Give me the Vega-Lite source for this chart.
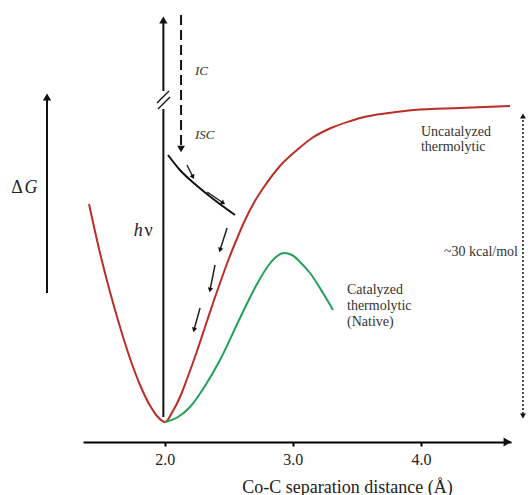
{
  "$schema": "https://vega.github.io/schema/vega-lite/v6.json",
  "width": 428,
  "height": 442,
  "padding": {"left": 83, "right": 17, "top": 0, "bottom": 53},
  "autosize": {"type": "none"},
  "background": "white",
  "config": {"view": {"stroke": null}, "font": "Times New Roman, Liberation Serif, serif"},
  "datasets": {
    "red": [
      {"x": 1.4097, "y": 21.8}, {"x": 1.4955, "y": 16.9}, {"x": 1.5735, "y": 13.0},
      {"x": 1.6516, "y": 9.5}, {"x": 1.7530, "y": 5.5}, {"x": 1.8076, "y": 3.7},
      {"x": 1.8856, "y": 1.65}, {"x": 1.9403, "y": 0.6}, {"x": 2.0027, "y": 0.0},
      {"x": 2.06, "y": 1.0}, {"x": 2.12, "y": 2.5}, {"x": 2.174, "y": 4.3},
      {"x": 2.25, "y": 7.0}, {"x": 2.315, "y": 9.5}, {"x": 2.38, "y": 12.0},
      {"x": 2.432, "y": 13.9}, {"x": 2.5, "y": 16.3}, {"x": 2.56, "y": 18.2},
      {"x": 2.62, "y": 20.0}, {"x": 2.7, "y": 22.0}, {"x": 2.775, "y": 23.5},
      {"x": 2.9, "y": 25.6}, {"x": 3.033, "y": 27.2}, {"x": 3.15, "y": 28.4},
      {"x": 3.298, "y": 29.4}, {"x": 3.45, "y": 30.1}, {"x": 3.556, "y": 30.5},
      {"x": 3.75, "y": 30.9}, {"x": 3.946, "y": 31.2}, {"x": 4.3, "y": 31.4},
      {"x": 4.695, "y": 31.6}
    ],
    "green": [
      {"x": 2.0027, "y": 0.0}, {"x": 2.1042, "y": 0.5}, {"x": 2.1978, "y": 1.5},
      {"x": 2.3149, "y": 3.6}, {"x": 2.4319, "y": 6.2}, {"x": 2.588, "y": 10.4},
      {"x": 2.7206, "y": 13.8}, {"x": 2.8065, "y": 15.6}, {"x": 2.8689, "y": 16.5},
      {"x": 2.9313, "y": 16.9}, {"x": 2.9938, "y": 16.7}, {"x": 3.0562, "y": 16.0},
      {"x": 3.1342, "y": 14.9}, {"x": 3.2357, "y": 12.9}, {"x": 3.3137, "y": 11.2}
    ],
    "isc": [
      {"x": 2.026, "y": 26.7}, {"x": 2.119, "y": 25.2}, {"x": 2.236, "y": 23.8},
      {"x": 2.369, "y": 22.4}, {"x": 2.549, "y": 20.7}
    ],
    "solidSegs": [
      {"x": 1.082, "y": 12.9, "x2": 1.082, "y2": 32.3},
      {"x": 1.99, "y": 0.5, "x2": 1.99, "y2": 40.0}
    ],
    "dashSeg": [
      {"x": 2.128, "y": 40.7, "x2": 2.128, "y2": 27.6}
    ],
    "dotSeg": [
      {"x": 4.796, "y": 0.8, "x2": 4.796, "y2": 30.4}
    ],
    "breakWhite": [
      {"x": 1.99, "y": 31.3, "x2": 1.99, "y2": 33.1}
    ],
    "breakMarks": [
      {"x": 1.940, "y": 31.9, "x2": 2.034, "y2": 33.1},
      {"x": 1.948, "y": 31.3, "x2": 2.042, "y2": 32.5}
    ],
    "thinArrows": [
      {"x": 2.174, "y": 25.7, "x2": 2.221, "y2": 24.5},
      {"x": 2.332, "y": 23.0, "x2": 2.457, "y2": 21.9},
      {"x": 2.487, "y": 19.4, "x2": 2.432, "y2": 17.2},
      {"x": 2.393, "y": 15.7, "x2": 2.354, "y2": 13.2},
      {"x": 2.276, "y": 11.4, "x2": 2.229, "y2": 9.2}
    ],
    "upHeads": [
      {"x": 1.082, "y": 32.5}, {"x": 1.99, "y": 40.2}
    ],
    "smallUpHeads": [
      {"x": 4.796, "y": 30.6}
    ],
    "downHeads": [
      {"x": 2.128, "y": 27.3}
    ],
    "smallDownHeads": [
      {"x": 4.796, "y": 0.6}
    ],
    "rightHeads": [
      {"x": 4.675, "y": -2.0}
    ],
    "bigUpright": [
      {"t": "Δ", "x": 0.848, "y": 23.4},
      {"t": "ν", "x": 1.874, "y": 19.1}
    ],
    "bigItalic": [
      {"t": "G", "x": 0.957, "y": 23.4},
      {"t": "h", "x": 1.794, "y": 19.1}
    ],
    "smallItalic": [
      {"t": "IC", "x": 2.237, "y": 35.1},
      {"t": "ISC", "x": 2.237, "y": 28.7}
    ],
    "notesLeft": [
      {"t": "Uncatalyzed", "x": 4.000, "y": 29.0},
      {"t": "thermolytic", "x": 4.000, "y": 27.5},
      {"t": "Catalyzed", "x": 3.423, "y": 13.2},
      {"t": "thermolytic", "x": 3.423, "y": 11.6},
      {"t": "(Native)", "x": 3.423, "y": 10.0}
    ],
    "notesRight": [
      {"t": "~30 kcal/mol", "x": 4.757, "y": 17.0}
    ]
  },
  "encoding": {
    "x": {
      "field": "x", "type": "quantitative",
      "scale": {"domain": [1.3628, 4.7027], "nice": false, "zero": false},
      "axis": {
        "values": [2, 3, 4], "format": ".1f", "grid": false,
        "title": "Co-C separation distance  (Å)",
        "domainColor": "black", "domainWidth": 2,
        "tickColor": "black", "tickWidth": 2, "tickSize": 4,
        "labelFont": "Times New Roman, Liberation Serif, serif", "labelFontSize": 16, "labelColor": "#222", "labelPadding": 5,
        "titleFont": "Times New Roman, Liberation Serif, serif", "titleFontSize": 18, "titleFontWeight": "normal", "titleColor": "#222",
        "titleX": 264, "titleY": 50, "titleAlign": "center", "titleBaseline": "alphabetic"
      }
    },
    "y": {
      "field": "y", "type": "quantitative",
      "scale": {"domain": [-2, 42.2], "nice": false, "zero": false},
      "axis": null
    }
  },
  "layer": [
    {"data": {"name": "red"}, "mark": {"type": "line", "interpolate": "monotone", "color": "#bb2e26", "strokeWidth": 2}},
    {"data": {"name": "green"}, "mark": {"type": "line", "interpolate": "monotone", "color": "#22a05a", "strokeWidth": 2}},
    {"data": {"name": "isc"}, "mark": {"type": "line", "interpolate": "monotone", "color": "#111", "strokeWidth": 2}},
    {"data": {"name": "solidSegs"}, "mark": {"type": "rule", "color": "#111", "strokeWidth": 2},
     "encoding": {"x2": {"field": "x2"}, "y2": {"field": "y2"}}},
    {"data": {"name": "breakWhite"}, "mark": {"type": "rule", "color": "white", "strokeWidth": 4},
     "encoding": {"x2": {"field": "x2"}, "y2": {"field": "y2"}}},
    {"data": {"name": "breakMarks"}, "mark": {"type": "rule", "color": "#111", "strokeWidth": 1.3},
     "encoding": {"x2": {"field": "x2"}, "y2": {"field": "y2"}}},
    {"data": {"name": "dashSeg"}, "mark": {"type": "rule", "color": "#111", "strokeWidth": 2, "strokeDash": [10, 5]},
     "encoding": {"x2": {"field": "x2"}, "y2": {"field": "y2"}}},
    {"data": {"name": "dotSeg"}, "mark": {"type": "rule", "color": "#111", "strokeWidth": 1.5, "strokeDash": [2, 2]},
     "encoding": {"x2": {"field": "x2"}, "y2": {"field": "y2"}}},
    {"data": {"name": "thinArrows"}, "mark": {"type": "rule", "color": "#222", "strokeWidth": 1.5},
     "encoding": {"x2": {"field": "x2"}, "y2": {"field": "y2"}}},
    {"data": {"name": "thinArrows"},
     "transform": [{"calculate": "atan2((datum.x2 - datum.x) * 128.15, (datum.y2 - datum.y) * 10) * 180 / PI", "as": "heading"}],
     "mark": {"type": "point", "shape": "triangle-up", "filled": true, "color": "#111", "size": 28, "opacity": 1},
     "encoding": {"x": {"field": "x2", "type": "quantitative"}, "y": {"field": "y2", "type": "quantitative"},
                  "angle": {"field": "heading", "type": "quantitative", "scale": null}}},
    {"data": {"name": "upHeads"}, "mark": {"type": "point", "shape": "triangle-up", "filled": true, "color": "#111", "size": 70, "opacity": 1}},
    {"data": {"name": "smallUpHeads"}, "mark": {"type": "point", "shape": "triangle-up", "filled": true, "color": "#111", "size": 35, "opacity": 1}},
    {"data": {"name": "downHeads"}, "mark": {"type": "point", "shape": "triangle-down", "filled": true, "color": "#111", "size": 60, "opacity": 1}},
    {"data": {"name": "smallDownHeads"}, "mark": {"type": "point", "shape": "triangle-down", "filled": true, "color": "#111", "size": 35, "opacity": 1}},
    {"data": {"name": "rightHeads"}, "mark": {"type": "point", "shape": "triangle-right", "filled": true, "color": "#111", "size": 80, "opacity": 1}},
    {"data": {"name": "bigUpright"}, "mark": {"type": "text", "font": "Times New Roman, Liberation Serif, serif", "fontSize": 18, "color": "#222", "align": "center", "baseline": "middle"},
     "encoding": {"text": {"field": "t"}}},
    {"data": {"name": "bigItalic"}, "mark": {"type": "text", "font": "Times New Roman, Liberation Serif, serif", "fontSize": 18, "fontStyle": "italic", "color": "#222", "align": "center", "baseline": "middle"},
     "encoding": {"text": {"field": "t"}}},
    {"data": {"name": "smallItalic"}, "mark": {"type": "text", "font": "Times New Roman, Liberation Serif, serif", "fontSize": 13, "fontStyle": "italic", "color": "#333", "align": "left", "baseline": "middle"},
     "encoding": {"text": {"field": "t"}}},
    {"data": {"name": "notesLeft"}, "mark": {"type": "text", "font": "Times New Roman, Liberation Serif, serif", "fontSize": 14, "color": "#333", "align": "left", "baseline": "middle"},
     "encoding": {"text": {"field": "t"}}},
    {"data": {"name": "notesRight"}, "mark": {"type": "text", "font": "Times New Roman, Liberation Serif, serif", "fontSize": 14, "color": "#333", "align": "right", "baseline": "middle"},
     "encoding": {"text": {"field": "t"}}}
  ]
}
